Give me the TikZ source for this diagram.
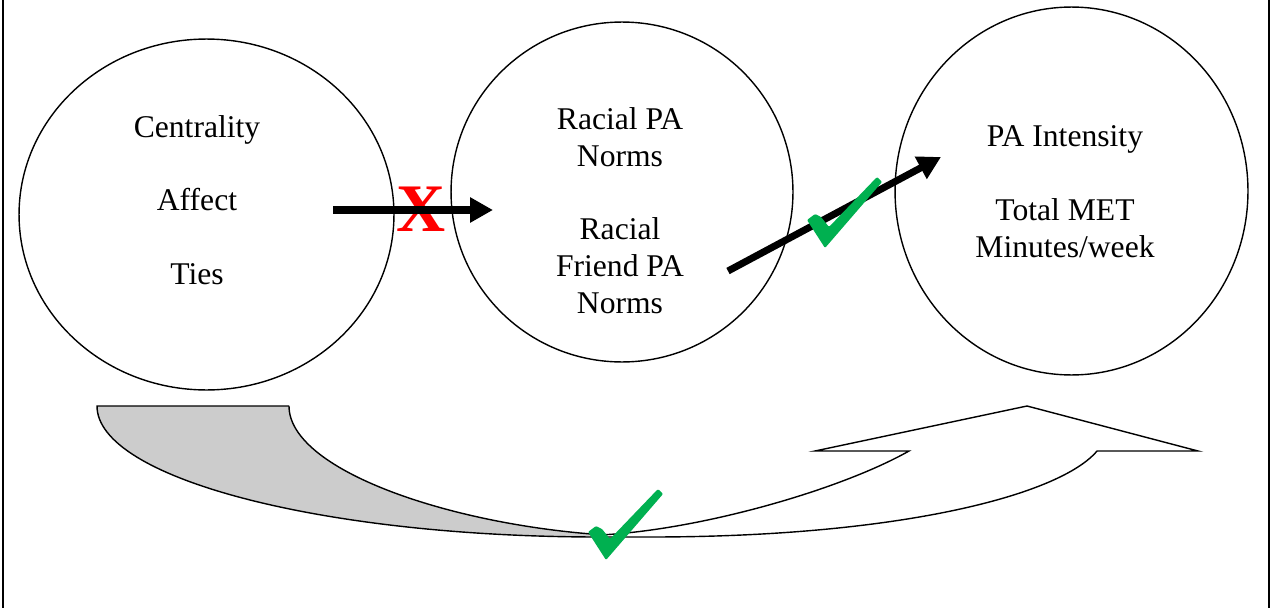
\documentclass[tikz,border=0pt]{standalone}
\usepackage{fontspec}
\setmainfont{Liberation Serif}
\usetikzlibrary{arrows.meta,shapes.geometric}

\definecolor{checkgreen}{HTML}{00B050}
\definecolor{backgray}{HTML}{CCCCCC}

\tikzset{
  konstrukt/.style={draw, ellipse, line width=0.8pt, inner sep=0pt},
  beschr/.style={align=center, font=\fontsize{18}{21}\selectfont, inner sep=0pt},
  pfeil/.style={line width=4pt, -{Triangle[length=0.46cm, width=0.48cm]}},
  bogen/.style={line width=0.8pt, line join=miter},
  greencheck/.pic={
    \fill[checkgreen, rounded corners=0.6pt] (0,43) -- (8,37) -- (14,40) -- (22,50)
      -- (70,0) -- (75,5) -- (18,71) -- cycle;
  }
}

\begin{document}
\begin{tikzpicture}[x=0.02cm, y=-0.02cm]

    \useasboundingbox (0,0) rectangle (1273,608);

    % Rahmen
    \draw[line width=1.1pt] (3,0) -- (3,608);
    \draw[line width=1.1pt] (1269,0) -- (1269,608);

    % Konstrukte
    \node[konstrukt, minimum width=7.5cm, minimum height=7.02cm] (netz) at (206.5,214.5) {};
    \node[konstrukt, minimum width=6.84cm, minimum height=6.8cm] (normen) at (622,192) {};
    \node[konstrukt, minimum width=7.06cm, minimum height=7.36cm] (intens) at (1071.5,191) {};

    % Beschriftung der Konstrukte
    \node[beschr] (netztxt) at (197,200) {Centrality\\[21pt]Affect\\[21pt]Ties};
    \node[beschr] (normtxt) at (620,210.7) {Racial PA\\Norms\\[21pt]Racial\\Friend PA\\Norms};
    \node[beschr] (intenstxt) at (1065,191.5) {PA Intensity\\[21pt]Total MET\\Minutes/week};

    % kein Effekt
    \node[text=red, inner sep=0pt, font=\fontsize{38.7}{40}\selectfont\bfseries] (kreuz) at (421,209) {X};
    \coordinate (p1a) at (333,210);
    \coordinate (p1b) at (493,210);
    \draw[pfeil] (p1a) -- (p1b);

    % Effekt
    \coordinate (p2a) at (728,271);
    \coordinate (p2b) at (941,157);
    \draw[pfeil] (p2a) -- (p2b);
    \pic at (807,177) {greencheck};

    % gebogener Pfeil unten
    \fill[backgray] (97,406) -- (289,406) .. controls (289,470) and (450,525) .. (605,535)
      -- (600,537) .. controls (322,537) and (97,478) .. (97,406) -- cycle;
    \draw[bogen] (289,406) .. controls (289,470) and (450,525) .. (605,535);
    \draw[bogen] (289,406) -- (97,406) .. controls (97,478) and (322,537) .. (600,537);
    \draw[bogen, fill=white] (600,535) .. controls (700,530) and (840,490) .. (909,451)
      -- (815,451) -- (1027,406) -- (1198,451) -- (1097,451)
      .. controls (1060,495) and (900,537) .. (650,537) -- (600,537);
    \pic at (588,489) {greencheck};

\end{tikzpicture}
\end{document}
